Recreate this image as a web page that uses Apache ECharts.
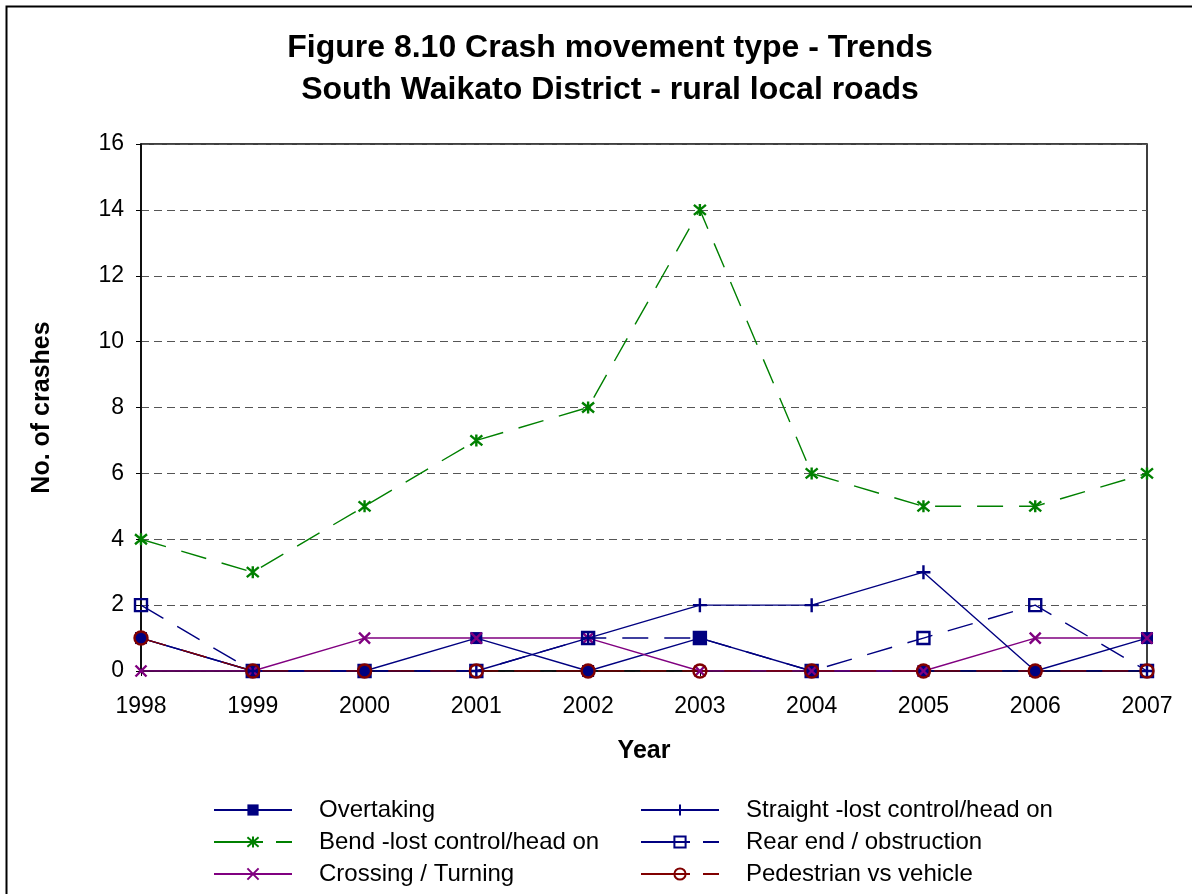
<!DOCTYPE html>
<html><head><meta charset="utf-8">
<script src="https://cdn.jsdelivr.net/npm/echarts@6/dist/echarts.min.js"></script>
<style>html,body{margin:0;padding:0;background:#fff}#c{width:1192px;height:894px}</style>
</head><body><div id="c"></div>
<script>
const years = ['1998','1999','2000','2001','2002','2003','2004','2005','2006','2007'];
const overtaking = [1,0,0,1,0,1,0,0,0,1];
const bend = [4,3,5,7,8,14,6,5,5,6];
const crossing = [0,0,1,1,1,0,0,0,1,1];
const straight = [1,0,0,0,1,2,2,3,0,0];
const rearEnd = [2,0,0,0,1,1,0,1,2,0];
const pedestrian = [1,0,0,0,0,0,0,0,0,0];
const yTicks = [0,2,4,6,8,10,12,14,16];

const FONT = 'Liberation Sans, Arial, sans-serif';
const NAVY = '#000080', GREEN = '#008000', PURPLE = '#800080', RED = '#800000';
const star = 'path://M0,0L10,10M10,0L0,10M5,-1L5,11';
const xmark = 'path://M0,0L10,10M10,0L0,10';
const plus = 'path://M5,0L5,10M0,5L10,5';

function stroked(name, data, color, symbol, size, dashed, fillColor) {
  return {
    name, type: 'line', data, symbol, symbolSize: size,
    lineStyle: {color, width: 1.4, type: dashed ? [26, 16] : 'solid'},
    itemStyle: {color: fillColor, borderColor: color, borderWidth: 2.4},
    emphasis: {disabled: true}, animation: false
  };
}
const series = [
  {name:'Overtaking', type:'line', data: overtaking, symbol:'rect', symbolSize: 12,
   lineStyle:{color:NAVY,width:1.4}, itemStyle:{color:NAVY}, animation:false},
  stroked('Bend -lost control/head on', bend, GREEN, star, 12, true, 'none'),
  stroked('Crossing / Turning', crossing, PURPLE, xmark, 11, false, 'none'),
  stroked('Straight -lost control/head on', straight, NAVY, plus, 14, false, 'none'),
  stroked('Rear end / obstruction', rearEnd, NAVY, 'rect', 12, true, 'rgba(0,0,0,0)'),
  stroked('Pedestrian vs vehicle', pedestrian, RED, 'circle', 13, true, 'rgba(0,0,0,0)')
];

const legendDash = {type: [49, 13, 16, 0]};
const chart = echarts.init(document.getElementById('c'));
const legendCommon = {
  orient: 'vertical', top: 798, padding: 0, height: 120, itemWidth: 78, itemHeight: 14, itemGap: 8,
  textStyle: {fontFamily: FONT, fontSize: 24, color: '#000', padding: [0,0,0,22]},
  selectedMode: false
};
chart.setOption({
  animation: false,
  title: {
    text: 'Figure 8.10 Crash movement type - Trends\nSouth Waikato District - rural local roads',
    left: 605, textAlign: 'center', top: 22,
    textStyle: {fontFamily: FONT, fontSize: 32, fontWeight: 'bold', color: '#000', lineHeight: 42}
  },
  graphic: [{type:'rect', shape:{x:6.5,y:6.5,width:1300,height:1000}, style:{fill:'none', stroke:'#000', lineWidth:2}}],
  legend: [
    Object.assign({}, legendCommon, {left: 213, data: [
      'Overtaking',
      {name: 'Bend -lost control/head on', lineStyle: legendDash},
      'Crossing / Turning']}),
    Object.assign({}, legendCommon, {left: 640, data: [
      'Straight -lost control/head on',
      {name: 'Rear end / obstruction', lineStyle: legendDash},
      {name: 'Pedestrian vs vehicle', lineStyle: legendDash}]})
  ],
  grid: {left: 141, right: 45, top: 144, bottom: 223, show: true, borderColor: '#000', borderWidth: 1.5},
  xAxis: {
    type: 'category', data: years, boundaryGap: false,
    name: 'Year', nameLocation: 'middle', nameGap: 68,
    nameTextStyle: {fontFamily: FONT, fontSize: 25, fontWeight: 'bold', color: '#000'},
    axisLine: {lineStyle: {color: '#000', width: 1.5}},
    axisTick: {show: true, alignWithLabel: true, length: 5, lineStyle: {color: '#000'}},
    axisLabel: {fontFamily: FONT, fontSize: 23, color: '#000', margin: 24}
  },
  yAxis: {
    type: 'value', min: 0, max: 16, interval: 2,
    name: 'No. of crashes', nameLocation: 'middle', nameGap: 86, nameRotate: 90,
    nameTextStyle: {fontFamily: FONT, fontSize: 25, fontWeight: 'bold', color: '#000'},
    axisLine: {show: true, lineStyle: {color: '#000', width: 1.5}},
    axisTick: {show: true, length: 5, lineStyle: {color: '#000'}},
    axisLabel: {fontFamily: FONT, fontSize: 23, color: '#000', margin: 17,
      formatter: v => yTicks.includes(v) ? String(v) : ''},
    splitLine: {show: true, lineStyle: {color: '#555', type: [8, 5], width: 1}}
  },
  series
});
</script></body></html>
